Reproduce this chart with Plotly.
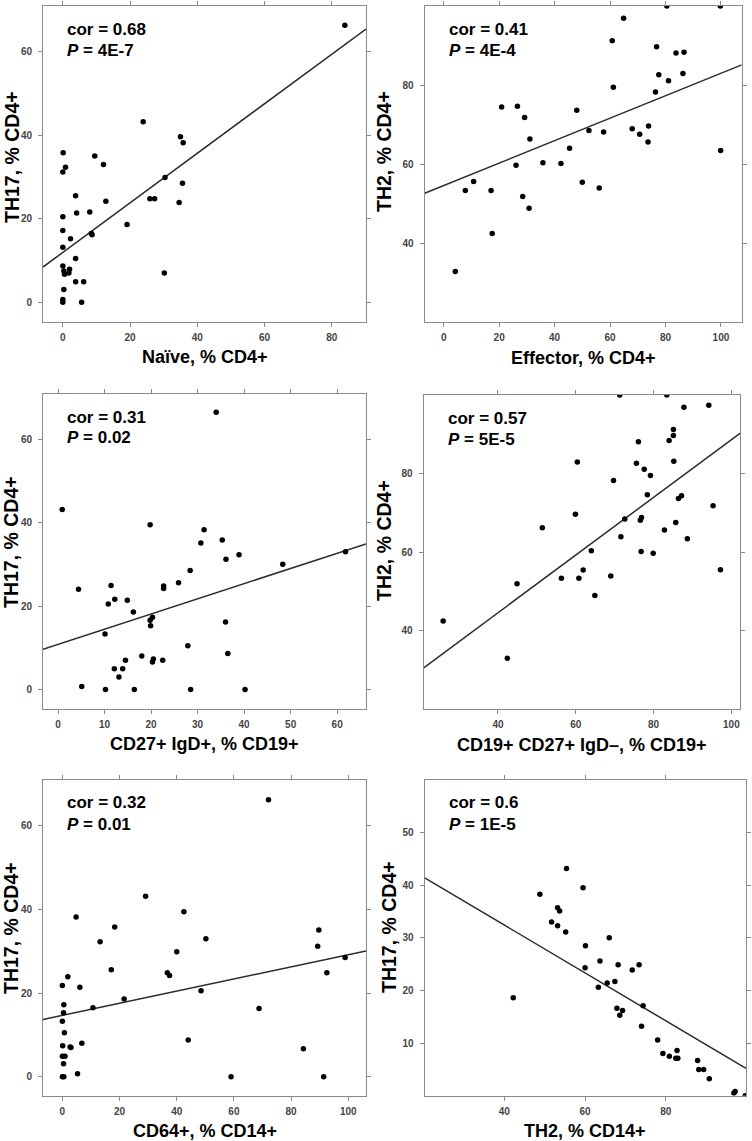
import plotly.graph_objects as go

W, H = 752, 1141

# ---------------- data ----------------
naive_x = [83.9, 23.9, 35.0, 35.8, 0.1, 9.5, 12.1, 0.8, 0.0, 30.4, 35.6, 3.8, 25.9, 27.3, 12.8, 34.6, 4.1, 8.0, 0.0, 19.1,
           0.0, 8.5, 8.7, 2.3, 0.0, 3.8, 0.0, 0.3, 0.5, 2.0, 1.8, 30.2, 3.8, 6.2, 0.3, 0.0, 0.0, 5.6]
naive_th17 = [66.3, 43.2, 39.6, 38.2, 35.8, 35.0, 33.0, 32.3, 31.2, 29.9, 28.5, 25.5, 24.8, 24.8, 24.2, 23.9, 21.4, 21.6, 20.5, 18.6,
              17.2, 16.5, 16.2, 15.2, 13.2, 10.5, 8.7, 7.5, 6.7, 7.9, 7.0, 7.0, 4.9, 4.9, 3.1, 0.7, 0.0, 0.0]
naive_fit_x = [-5.9, 90.2]
naive_fit_y = [8.45, 65.4]

effector_x = [80.5, 99.8, 64.9, 60.8, 76.8, 83.8, 86.7, 77.6, 86.3, 81.1, 61.2, 76.4, 20.9, 26.6, 48.0, 29.2, 73.9, 68.0, 52.4,
              57.7, 70.7, 31.1, 73.7, 45.4, 99.9, 26.1, 35.8, 42.3, 50.0, 10.8, 7.8, 17.1, 56.1, 28.5, 30.8, 17.5, 4.2]
effector_th2 = [100, 100, 96.9, 91.2, 89.7, 88.1, 88.3, 82.6, 82.9, 81.1, 79.4, 78.2, 74.4, 74.6, 73.6, 71.8, 69.6, 68.9, 68.5,
                68.1, 67.5, 66.3, 65.6, 64.0, 63.4, 59.7, 60.3, 60.1, 55.4, 55.6, 53.3, 53.3, 53.9, 51.8, 48.8, 42.4, 32.8]
effector_fit_x = [-6.85, 107.5]
effector_fit_y = [52.6, 85.1]

cd27igd_x = [34.0, 0.9, 19.8, 31.4, 35.3, 30.7, 38.9, 36.1, 61.8, 48.3, 28.4, 4.4, 11.4, 22.7, 22.7, 25.9, 10.8, 12.2, 14.9, 16.2,
             20.3, 19.8, 19.9, 36.0, 10.1, 27.9, 36.5, 18.0, 14.5, 20.5, 20.3, 22.5, 12.1, 13.9, 13.1, 5.1, 10.2, 16.4, 28.5, 40.2]
cd27igd_th17 = [66.4, 43.1, 39.5, 38.3, 35.8, 35.1, 32.3, 31.2, 33.0, 30.0, 28.5, 24.0, 24.9, 24.8, 24.2, 25.6, 20.5, 21.6, 21.4, 18.6,
                17.3, 16.6, 15.3, 16.2, 13.3, 10.5, 8.6, 8.0, 7.0, 7.3, 6.6, 7.0, 5.0, 5.0, 3.0, 0.7, 0.0, 0.0, 0.0, 0.0]
cd27igd_fit_x = [-3.23, 66.2]
cd27igd_fit_y = [9.66, 34.9]

memB_x = [71.3, 83.4, 87.8, 94.2, 85.1, 85.1, 76.1, 84.0, 60.4, 75.6, 85.2, 77.6, 79.2, 69.7, 78.4, 87.2, 86.4, 95.3, 59.9, 72.6,
          76.9, 76.6, 85.7, 82.8, 51.4, 71.6, 88.7, 64.0, 76.8, 79.9, 97.2, 61.9, 56.3, 60.8, 69.0, 44.9, 64.9, 25.9, 42.4]
memB_th2 = [100, 100, 96.9, 97.4, 91.2, 89.7, 88.1, 88.4, 82.9, 82.6, 83.1, 81.1, 79.5, 78.2, 74.6, 74.3, 73.6, 71.8, 69.6, 68.4,
            68.8, 68.1, 67.5, 65.6, 66.2, 63.9, 63.4, 60.3, 60.1, 59.7, 55.5, 55.4, 53.3, 53.3, 53.9, 51.9, 48.9, 42.4, 32.9]
memB_fit_x = [20.9, 102.3]
memB_fit_y = [30.5, 90.3]

cd64_x = [72.1, 29.1, 42.5, 4.8, 18.3, 89.7, 50.2, 13.2, 89.3, 40.0, 98.9, 17.1, 36.7, 37.5, 92.5, 1.9, 0.0, 6.1, 48.5, 21.6,
          0.5, 10.7, 68.8, 0.4, 0.0, 0.7, 44.0, 6.8, 0.1, 2.7, 3.0, 84.3, 0.0, 0.9, 0.4, 5.3, 0.0, 0.5, 59.0, 91.4]
cd64_th17 = [66.3, 43.2, 39.5, 38.2, 35.8, 35.1, 33.0, 32.3, 31.2, 29.9, 28.5, 25.6, 24.9, 24.2, 24.9, 23.9, 21.8, 21.4, 20.6, 18.6,
             17.2, 16.5, 16.3, 15.3, 13.3, 10.5, 8.8, 8.0, 7.4, 7.1, 7.0, 6.7, 4.9, 4.9, 3.1, 0.7, 0.0, 0.0, 0.0, 0.0]
cd64_fit_x = [-6.78, 106.2]
cd64_fit_y = [13.7, 30.1]

th2cd14_x = [55.4, 59.5, 48.8, 53.2, 53.7, 51.7, 53.2, 55.2, 66.0, 60.1, 63.7, 68.2, 73.4, 71.7, 60.0, 67.4, 65.5, 63.3, 42.2,
             74.4, 67.9, 69.3, 68.6, 74.0, 78.0, 82.8, 79.3, 80.9, 82.5, 83.0, 87.9, 88.2, 89.4, 90.8, 96.9, 97.2, 99.7]
th2cd14_th17 = [43.2, 39.5, 38.3, 35.7, 35.1, 33.0, 32.3, 31.1, 30.0, 28.5, 25.6, 24.9, 24.9, 23.9, 24.3, 21.7, 21.4, 20.6, 18.6,
                17.1, 16.6, 16.2, 15.3, 13.2, 10.6, 8.6, 8.0, 7.5, 7.1, 7.1, 6.7, 5.0, 5.0, 3.2, 0.5, 0.8, 0.0]
th2cd14_fit_x = [20.25, 99.9]
th2cd14_fit_y = [41.4, 5.2]

x_titles = ["Naïve, % CD4+", "Effector, % CD4+", "CD27+ IgD+, % CD19+",
            "CD19+ CD27+ IgD\u2013, % CD19+", "CD64+, % CD14+", "TH2, % CD14+"]
y_titles = ["TH17, % CD4+", "TH2, % CD4+", "TH17, % CD4+", "TH2, % CD4+", "TH17, % CD4+", "TH17, % CD4+"]
cor_text = ["cor = 0.68", "cor = 0.41", "cor = 0.31", "cor = 0.57", "cor = 0.32", "cor = 0.6"]
p_text = ["4E-7", "4E-4", "0.02", "5E-5", "0.01", "1E-5"]

x_ticks = [[0, 20, 40, 60, 80], [0, 20, 40, 60, 80, 100], [0, 10, 20, 30, 40, 50, 60],
           [40, 60, 80, 100], [0, 20, 40, 60, 80, 100], [40, 60, 80]]
y_ticks = [[0, 20, 40, 60], [40, 60, 80], [0, 20, 40, 60], [40, 60, 80], [0, 20, 40, 60], [10, 20, 30, 40, 50]]

x_ranges = [[-5.9, 90.2], [-6.85, 107.5], [-3.23, 66.2], [20.9, 102.3], [-6.78, 106.2], [20.25, 99.9]]
y_ranges = [[-4.7, 70.9], [20, 100], [-4.55, 70.8], [20, 100], [-4.54, 71.0], [0, 60]]

# ---------------- layout geometry (pixels) ----------------
boxes = [  # x0, x1, y0(top), y1(bottom)
    (43, 366, 6, 322), (424.7, 741.7, 6, 322),
    (43, 366, 394, 708.5), (423.7, 740.3, 395, 709),
    (43, 366, 780, 1095.7), (424.7, 746, 780, 1095.7),
]
xtitle_y = [357, 358, 744, 745, 1131, 1131]
ytitle_x = [12, 384, 11, 384, 11, 389]
ytitle_y = [157, 151, 542, 540, 928, 927]

panels = [
    (naive_x, naive_th17, naive_fit_x, naive_fit_y),
    (effector_x, effector_th2, effector_fit_x, effector_fit_y),
    (cd27igd_x, cd27igd_th17, cd27igd_fit_x, cd27igd_fit_y),
    (memB_x, memB_th2, memB_fit_x, memB_fit_y),
    (cd64_x, cd64_th17, cd64_fit_x, cd64_fit_y),
    (th2cd14_x, th2cd14_th17, th2cd14_fit_x, th2cd14_fit_y),
]

FONT = "Liberation Sans, Arial, sans-serif"
AXC = "#8a8a8a"

fig = go.Figure()
layout = dict(width=W, height=H, margin=dict(l=0, r=0, t=0, b=0),
              paper_bgcolor="white", plot_bgcolor="white", showlegend=False,
              font=dict(family=FONT))
annotations = []

for i, (px, py, fx, fy) in enumerate(panels):
    n = i + 1
    xa = "x" if n == 1 else f"x{n}"
    ya = "y" if n == 1 else f"y{n}"
    fig.add_trace(go.Scatter(x=fx, y=fy, mode="lines", xaxis=xa, yaxis=ya,
                             line=dict(color="#2b2b2b", width=1.5), hoverinfo="skip"))
    fig.add_trace(go.Scatter(x=px, y=py, mode="markers", xaxis=xa, yaxis=ya,
                             marker=dict(color="black", size=5.5, line=dict(width=0))))
    x0, x1, t, b = boxes[i]
    common = dict(showline=True, linecolor=AXC, linewidth=1, mirror="ticks", ticks="outside",
                  ticklen=4, tickcolor=AXC, tickwidth=1, showgrid=False, zeroline=False,
                  tickfont=dict(family=FONT, size=10, color="#444444", weight="bold"))
    layout["xaxis" if n == 1 else f"xaxis{n}"] = dict(
        domain=[x0 / W, x1 / W], anchor=ya, range=x_ranges[i], ticklabelstandoff=2,
        tickmode="array", tickvals=x_ticks[i], **common)
    layout["yaxis" if n == 1 else f"yaxis{n}"] = dict(
        domain=[1 - b / H, 1 - t / H], anchor=xa, range=y_ranges[i], ticklabelstandoff=4,
        tickmode="array", tickvals=y_ticks[i], **common)

    annotations.append(dict(xref="paper", yref="paper", x=(x0 + 22) / W, y=1 - (t + 23) / H,
                            xanchor="left", yanchor="middle", showarrow=False,
                            text=f"<b>{cor_text[i]}</b>",
                            font=dict(family=FONT, size=17, color="black")))
    annotations.append(dict(xref="paper", yref="paper", x=(x0 + 22) / W, y=1 - (t + 44) / H,
                            xanchor="left", yanchor="middle", showarrow=False,
                            text=f"<b><i>P</i> = {p_text[i]}</b>",
                            font=dict(family=FONT, size=17, color="black")))
    annotations.append(dict(xref="paper", yref="paper", x=(x0 + x1) / 2 / W, y=1 - xtitle_y[i] / H,
                            xanchor="center", yanchor="middle", showarrow=False,
                            text=f"<b>{x_titles[i]}</b>",
                            font=dict(family=FONT, size=18, color="black")))
    annotations.append(dict(xref="paper", yref="paper", x=ytitle_x[i] / W, y=1 - ytitle_y[i] / H,
                            xanchor="center", yanchor="middle", showarrow=False, textangle=-90,
                            text=f"<b>{y_titles[i]}</b>",
                            font=dict(family=FONT, size=19.5, color="black")))

layout["annotations"] = annotations
fig.update_layout(**layout)
fig.write_html("out.html", config={"displayModeBar": False, "staticPlot": True},
               post_script="document.body.style.margin='0px';document.body.style.padding='0px';"
                           "document.body.style.overflow='hidden';")
